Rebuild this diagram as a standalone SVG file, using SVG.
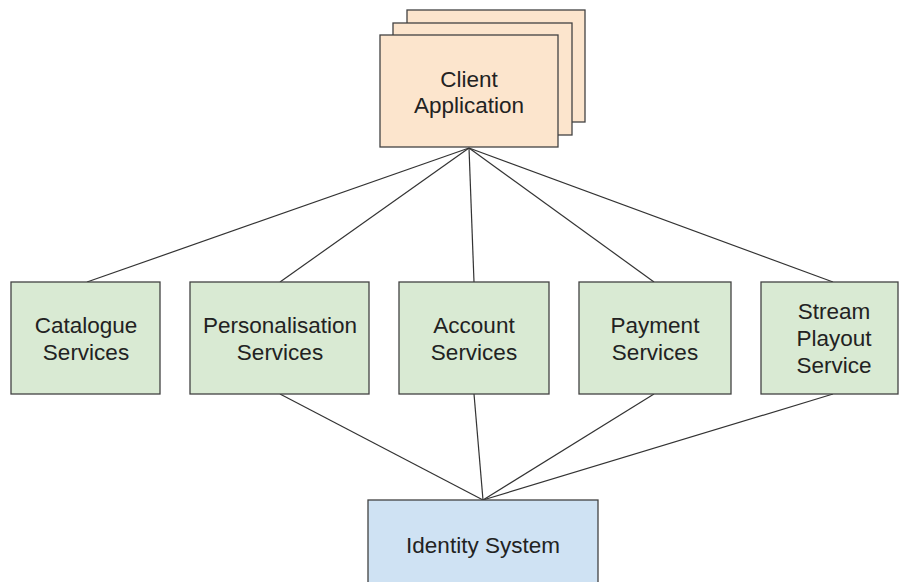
<svg xmlns="http://www.w3.org/2000/svg" width="899" height="582" viewBox="0 0 899 582">
<style>
.box{stroke:#434343;stroke-width:1.3}
.client{fill:#fce5cd}
.svc{fill:#d9ead3}
.id{fill:#cfe2f3}
.lbl{font-family:"Liberation Sans",Arial,sans-serif;font-size:22.5px;fill:#222;text-anchor:middle}
.conn line{stroke:#333;stroke-width:1.2}
</style>
<rect width="899" height="582" fill="#fff"/>
<g class="conn" id="connectors">
<line x1="469" y1="148" x2="87" y2="282"/>
<line x1="469" y1="148" x2="280" y2="282"/>
<line x1="469" y1="148" x2="474" y2="282"/>
<line x1="469" y1="148" x2="654" y2="282"/>
<line x1="469" y1="148" x2="833" y2="282"/>
<line x1="280" y1="394" x2="483" y2="500"/>
<line x1="474" y1="394" x2="483" y2="500"/>
<line x1="654" y1="394" x2="483" y2="500"/>
<line x1="833" y1="394" x2="483" y2="500"/>
</g>
<g id="client">
<rect class="box client" x="407" y="10" width="178" height="112"/>
<rect class="box client" x="393" y="23" width="179" height="112"/>
<rect class="box client" x="380" y="35" width="178" height="112"/>
<text class="lbl" x="469" y="87">Client</text>
<text class="lbl" x="469" y="113">Application</text>
</g>
<g id="catalogue">
<rect class="box svc" x="11" y="282" width="149" height="112"/>
<text class="lbl" x="86" y="333">Catalogue</text>
<text class="lbl" x="86" y="360">Services</text>
</g>
<g id="personalisation">
<rect class="box svc" x="190" y="282" width="179" height="112"/>
<text class="lbl" x="280" y="333">Personalisation</text>
<text class="lbl" x="280" y="360">Services</text>
</g>
<g id="account">
<rect class="box svc" x="399" y="282" width="150" height="112"/>
<text class="lbl" x="474" y="333">Account</text>
<text class="lbl" x="474" y="360">Services</text>
</g>
<g id="payment">
<rect class="box svc" x="579" y="282" width="152" height="112"/>
<text class="lbl" x="655" y="333">Payment</text>
<text class="lbl" x="655" y="360">Services</text>
</g>
<g id="stream">
<rect class="box svc" x="761" y="282" width="137" height="112"/>
<text class="lbl" x="834" y="319">Stream</text>
<text class="lbl" x="834" y="346">Playout</text>
<text class="lbl" x="834" y="373">Service</text>
</g>
<g id="identity">
<rect class="box id" x="368" y="500" width="230" height="90"/>
<text class="lbl" x="483" y="553">Identity System</text>
</g>
</svg>
